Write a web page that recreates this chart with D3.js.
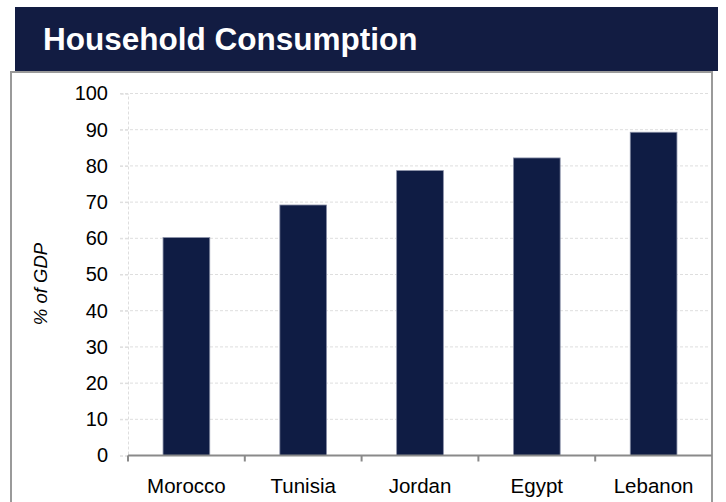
<!DOCTYPE html>
<html>
  <head>
    <title>Household Consumption</title>
    <script src="https://d3js.org/d3.v7.min.js"></script>
    <style>
      body { margin: 0; background: #fff; }
      svg text { font-family: "Liberation Sans", Arial, sans-serif; }
    </style>
  </head>
  <body>
    <div id="chart"></div>
    <script>
      // data
      const countries = ["Morocco", "Tunisia", "Jordan", "Egypt", "Lebanon"];
      const shares = [60.2, 69.2, 78.7, 82.2, 89.3];
      const yTicks = [0, 10, 20, 30, 40, 50, 60, 70, 80, 90, 100];

      const W = 726, H = 502;
      const plot = {left: 128, right: 712, top: 93.5, bottom: 455.5};

      const svg = d3.select("#chart")
        .append("svg")
          .attr("width", W)
          .attr("height", H);

      // title band
      svg.append("rect")
        .attr("x", 15).attr("y", 7)
        .attr("width", 703).attr("height", 64)
        .attr("fill", "#121c42");

      svg.append("text")
        .text("Household Consumption")
        .attr("x", 43).attr("y", 50)
        .attr("fill", "#fff")
        .attr("font-weight", "bold")
        .attr("font-size", 31.5);

      // frame
      svg.append("path")
        .attr("d", `M11,${H + 2}V72H712V${H + 2}`)
        .attr("fill", "none")
        .attr("stroke", "#9a9a9a")
        .attr("stroke-width", 2);

      const x = d3.scaleBand()
        .domain(countries)
        .range([plot.left, plot.right])
        .paddingInner(0.6)
        .paddingOuter(0.3);

      const y = d3.scaleLinear()
        .domain([0, 100])
        .range([plot.bottom, plot.top]);

      // gridlines
      svg.append("g")
        .selectAll("line")
        .data(yTicks.filter(d => d > 0))
        .join("line")
          .attr("x1", plot.left - 8)
          .attr("x2", plot.right - 2)
          .attr("y1", d => y(d))
          .attr("y2", d => y(d))
          .attr("stroke", "#dedede")
          .attr("stroke-dasharray", "3,2");

      // y axis
      const yAxis = svg.append("g")
        .attr("transform", `translate(${plot.left},0)`)
        .call(d3.axisLeft(y).tickValues(yTicks).tickSize(8).tickPadding(12));
      yAxis.select(".domain").attr("stroke", "#dedede").attr("stroke-dasharray", "3,2");
      yAxis.selectAll(".tick line").attr("stroke", "#dedede").attr("stroke-dasharray", "3,2");
      yAxis.selectAll("text")
        .attr("font-size", 20)
        .attr("fill", "#000")
        .style("font-family", "'Liberation Sans', Arial, sans-serif");

      svg.append("text")
        .text("% of GDP")
        .attr("transform", "translate(47,284) rotate(-90)")
        .attr("text-anchor", "middle")
        .attr("font-size", 18.5)
        .attr("font-style", "italic");

      // bars
      svg.append("g")
        .selectAll("rect")
        .data(countries.map((c, i) => ({c, v: shares[i]})))
        .join("rect")
          .attr("x", d => x(d.c))
          .attr("y", d => y(d.v))
          .attr("width", x.bandwidth())
          .attr("height", d => y(0) - y(d.v))
          .attr("fill", "#0f1c44")
          .attr("stroke", "#8a90a8")
          .attr("stroke-width", 0.8);

      // x axis with ticks between categories
      const xAxis = svg.append("g")
        .attr("transform", `translate(0,${plot.bottom})`)
        .call(d3.axisBottom(x).tickSize(0).tickPadding(23));
      xAxis.select(".domain").remove();
      xAxis.selectAll("text")
        .attr("font-size", 20.5)
        .attr("fill", "#000")
        .style("font-family", "'Liberation Sans', Arial, sans-serif");

      svg.append("line")
        .attr("x1", plot.left).attr("x2", plot.right)
        .attr("y1", plot.bottom).attr("y2", plot.bottom)
        .attr("stroke", "#8a8a8a").attr("stroke-width", 2);

      const bounds = countries.map(c => x(c) - x.step() * x.paddingInner() / 2);
      bounds[0] = plot.left;
      svg.append("g")
        .selectAll("line")
        .data(bounds)
        .join("line")
          .attr("x1", d => d).attr("x2", d => d)
          .attr("y1", plot.bottom).attr("y2", plot.bottom + 6)
          .attr("stroke", "#8a8a8a").attr("stroke-width", 2);
    </script>
  </body>
</html>
